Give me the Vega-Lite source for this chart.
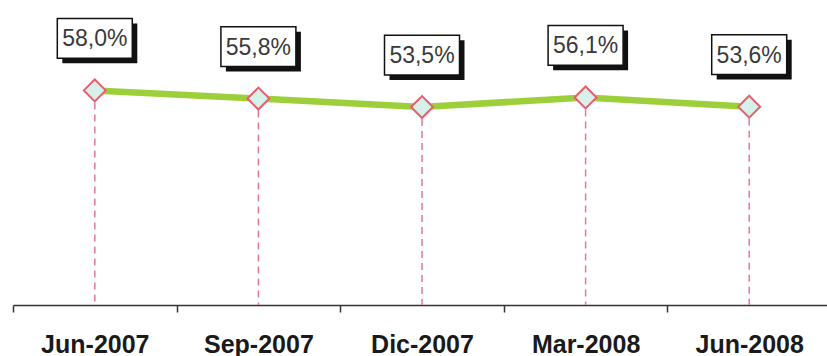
{
  "$schema": "https://vega.github.io/schema/vega-lite/v6.json",
  "width": 818,
  "height": 296,
  "autosize": {"type": "none"},
  "padding": {"left": 13, "right": -4, "top": 9, "bottom": 51},
  "background": "white",
  "config": {"view": {"stroke": null}},
  "data": {
    "values": [
      {"periodo": "Jun-2007", "valor": 58.0, "etiqueta": "58,0%"},
      {"periodo": "Sep-2007", "valor": 55.8, "etiqueta": "55,8%"},
      {"periodo": "Dic-2007", "valor": 53.5, "etiqueta": "53,5%"},
      {"periodo": "Mar-2008", "valor": 56.1, "etiqueta": "56,1%"},
      {"periodo": "Jun-2008", "valor": 53.6, "etiqueta": "53,6%"}
    ]
  },
  "encoding": {
    "x": {
      "field": "periodo",
      "type": "nominal",
      "sort": null,
      "scale": {"type": "band", "paddingInner": 0, "paddingOuter": 0},
      "axis": {
        "title": null,
        "tickBand": "extent",
        "labelFont": "Liberation Sans",
        "labelFontSize": 25,
        "labelFontWeight": "bold",
        "labelColor": "#1a1a1a",
        "labelBaseline": "alphabetic",
        "labelPadding": 40,
        "labelAngle": 0,
        "tickSize": 7,
        "tickColor": "#333333",
        "tickWidth": 1.5,
        "domainColor": "#333333",
        "domainWidth": 1.5,
        "grid": false
      }
    },
    "y": {
      "field": "valor",
      "type": "quantitative",
      "scale": {"domain": [0, 80]},
      "axis": null
    }
  },
  "layer": [
    {
      "mark": {"type": "rule", "color": "#e8759e", "strokeDash": [7, 5], "strokeWidth": 1.5},
      "encoding": {"y2": {"datum": 0}}
    },
    {
      "mark": {"type": "line", "color": "#9dcf3b", "strokeWidth": 6.5}
    },
    {
      "mark": {"type": "point", "shape": "diamond", "size": 480, "filled": true, "fill": "#d6f0ea", "stroke": "#e2606f", "strokeWidth": 2, "opacity": 1}
    },
    {
      "mark": {"type": "point", "shape": "M-1,-0.53L1,-0.53L1,0.53L-1,0.53Z", "size": 5625, "filled": true, "color": "#111111", "opacity": 1, "xOffset": 5, "yOffset": -47}
    },
    {
      "mark": {"type": "point", "shape": "M-1,-0.53L1,-0.53L1,0.53L-1,0.53Z", "size": 5625, "filled": true, "fill": "white", "stroke": "#111111", "strokeWidth": 1.5, "opacity": 1, "yOffset": -52}
    },
    {
      "mark": {"type": "text", "fontSize": 23, "font": "Liberation Sans", "color": "#3a3a3a", "baseline": "middle", "yOffset": -51},
      "encoding": {"text": {"field": "etiqueta"}}
    }
  ]
}
